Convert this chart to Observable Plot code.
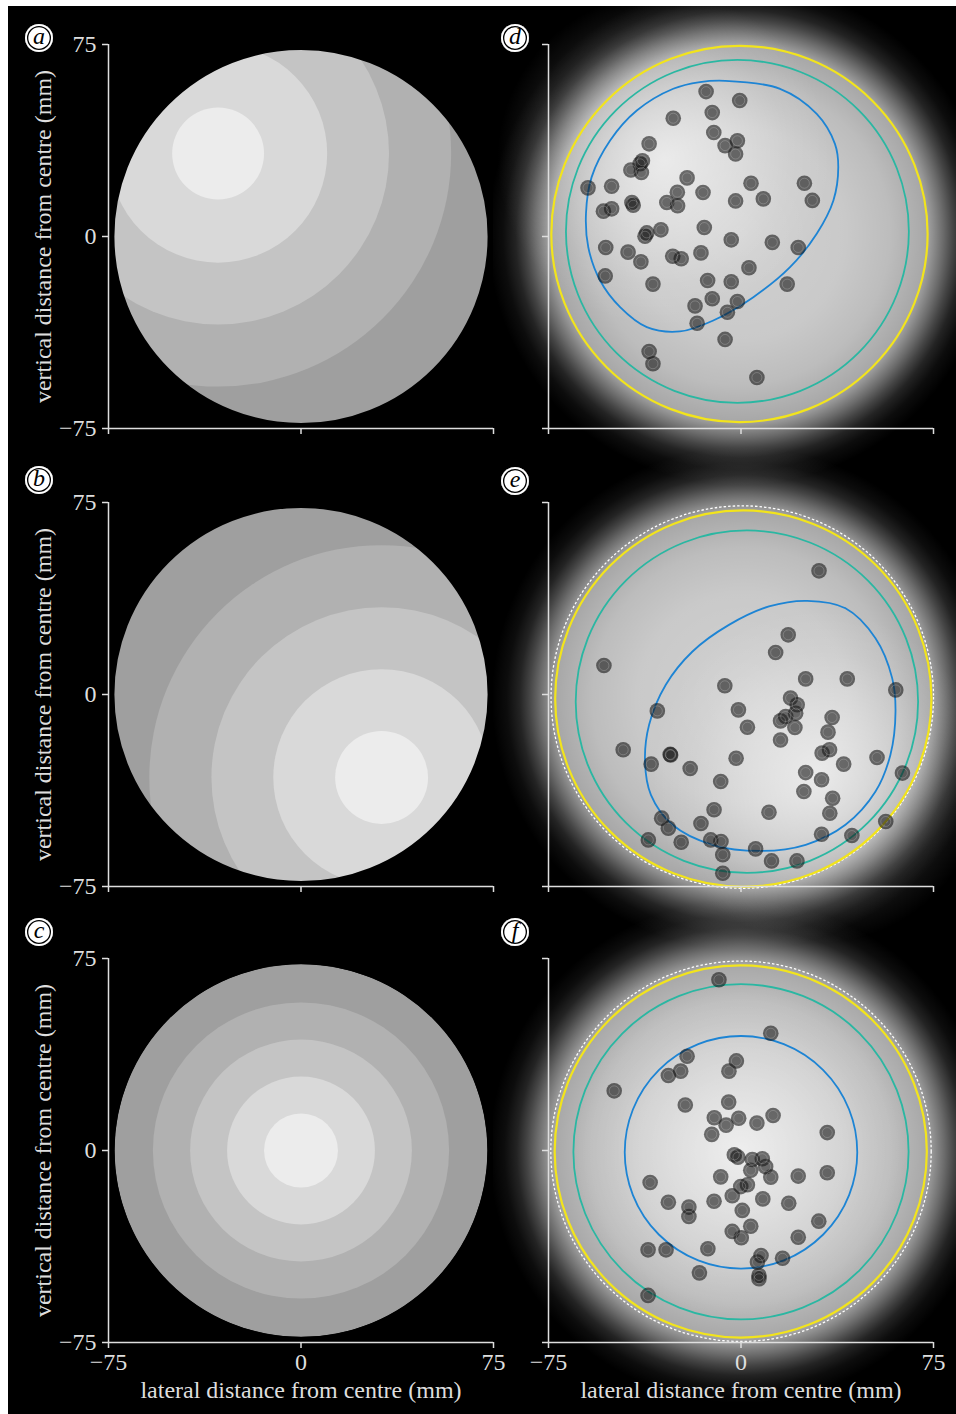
<!DOCTYPE html>
<html><head><meta charset="utf-8">
<script src="https://cdn.jsdelivr.net/npm/d3@7"></script>
<script src="https://cdn.jsdelivr.net/npm/@observablehq/plot@0.6"></script>
<style>
html,body{margin:0;padding:0;background:#fff;}
#page{position:relative;width:956px;height:1414px;background:#fff;overflow:hidden;}
#black{position:absolute;left:8px;top:6px;width:948px;height:1408px;background:#000;}
.strip{position:absolute;background:#fff;z-index:5;}
.panel{position:absolute;}
.tag{position:absolute;z-index:6;width:28px;height:28px;border-radius:50%;background:#fff;
 box-shadow: inset 0 0 0 2px #fff, inset 0 0 0 3.3px #000;
 font-family:"Liberation Serif",serif;font-style:italic;font-size:24px;line-height:25px;text-align:center;color:#000;}
</style></head>
<body>
<svg width="0" height="0" style="position:absolute"><defs>
<radialGradient id="glow" cx="50%" cy="50%" r="50%">
 <stop offset="0" stop-color="#fff" stop-opacity="0.82"/>
 <stop offset="0.42" stop-color="#fff" stop-opacity="0.79"/>
 <stop offset="0.6" stop-color="#fff" stop-opacity="0.74"/>
 <stop offset="0.74" stop-color="#fff" stop-opacity="0.66"/>
 <stop offset="0.77" stop-color="#fff" stop-opacity="0.56"/>
 <stop offset="0.81" stop-color="#fff" stop-opacity="0.42"/>
 <stop offset="0.85" stop-color="#fff" stop-opacity="0.27"/>
 <stop offset="0.89" stop-color="#fff" stop-opacity="0.14"/>
 <stop offset="0.94" stop-color="#fff" stop-opacity="0.05"/>
 <stop offset="1" stop-color="#fff" stop-opacity="0"/>
</radialGradient>
<radialGradient id="hl" cx="50%" cy="50%" r="50%">
 <stop offset="0" stop-color="#fff" stop-opacity="0.62"/>
 <stop offset="0.4" stop-color="#fff" stop-opacity="0.36"/>
 <stop offset="0.75" stop-color="#fff" stop-opacity="0.1"/>
 <stop offset="1" stop-color="#fff" stop-opacity="0"/>
</radialGradient>
</defs></svg>
<div id="page"><div id="black"></div>
<div class="strip" style="left:0;top:0;width:956px;height:6px"></div>
<div class="strip" style="left:0;top:0;width:8px;height:1414px"></div>
</div>
<script>
// ---------- data (mm) ----------
const axisTicks = [-75, 0, 75];
const tickLabels = ["\u221275", "0", "75"];
const yLabel = "vertical distance from centre (mm)";
const xLabel = "lateral distance from centre (mm)";
const panelLetters = ["a", "b", "c", "d", "e", "f"];

// left panels: banded light distribution
const ringShades = ["#9f9f9f", "#b1b1b1", "#c4c4c4", "#d9d9d9", "#ececec"];
const discRadius = 72.7;
const ringRadiiA = [130, 90.8, 66.6, 42.5, 17.9];
const ringCentreA = [-32.3, 32.4];
const ringRadiiB = [130, 90.5, 66.3, 42.2, 18.1];
const ringCentreB = [31.4, -32.4];
const ringRadiiC = [72.6, 57.7, 43.2, 28.8, 14.4];
const ringCentreC = [0, 0];

// right panels: circles [cx, cy, r]
const yellowD = [-0.6, 1.0, 73.3];
const tealD = [-1.4, 2.0, 66.8];
const yellowE = [0.9, -1.6, 73.3];
const tealE = [2.3, -2.8, 66.7];
const dottedE = [0.5, -1.0, 74.5];
const yellowF = [-0.1, -0.4, 72.5];
const tealF = [0, -0.5, 65.3];
const dottedF = [0, -0.3, 74.1];
const blueF = [0, -0.7, 45.3];
const highlightD = [-30, 30, 65];
const highlightE = [30, -32, 65];
const highlightF = [0, 0, 65];
const glowRadius = 98;

const contourD = [[-6.2,60.8],[15.2,57.7],[29.5,47.9],[36.6,36.2],[37.9,27.1],[36.0,14.1],[29.5,1.1],[19.1,-12.0],[4.8,-23.7],[-10.8,-32.8],[-23.8,-37.1],[-36.7,-35.4],[-47.1,-27.6],[-54.9,-17.2],[-59.5,-4.2],[-60.4,8.9],[-58.2,23.2],[-51.0,37.5],[-40.6,49.2],[-26.4,57.7],[-16.0,60.3]];
const contourE = [[25.8,36.6],[40.7,33.7],[52.4,22.0],[58.9,6.4],[60.2,-6.6],[58.2,-23.6],[52.4,-37.9],[40.7,-50.9],[25.2,-58.7],[8.3,-61.1],[-11.2,-58.7],[-26.7,-50.9],[-35.1,-39.2],[-37.4,-26.2],[-35.8,-11.8],[-29.3,3.8],[-18.9,16.8],[-4.7,27.2],[10.9,34.4]];

const dotsD = [[-13.6,56.6],[-0.5,53.1],[-11.2,48.4],[-26.4,46.2],[-10.6,40.6],[-6.2,35.5],[-1.4,37.4],[-2.1,32.2],[-35.8,36.2],[-38.4,29.6],[-39.3,28.4],[-42.9,26.0],[-38.8,25.0],[-21.0,22.9],[-59.6,19.0],[-50.4,19.6],[-24.8,17.3],[-14.8,17.2],[3.9,20.8],[24.7,20.8],[27.8,14.1],[8.7,14.7],[-2.1,13.9],[-28.9,13.3],[-24.7,12.0],[-42.5,13.3],[-42.0,12.2],[-50.4,10.8],[-53.6,9.9],[-14.3,3.5],[-31.2,2.6],[-36.7,1.4],[-37.4,0.1],[-52.7,-4.3],[-44.0,-6.1],[-39.0,-9.9],[-26.6,-7.7],[-23.3,-8.7],[-15.6,-6.4],[-3.8,-1.3],[12.2,-2.3],[22.3,-4.3],[3.1,-12.2],[-52.9,-15.4],[-34.3,-18.6],[-13.0,-17.2],[-3.8,-17.7],[18.0,-18.6],[-11.2,-24.3],[-1.4,-25.4],[-17.9,-27.1],[-5.3,-29.6],[-17.1,-33.9],[-6.2,-40.2],[-35.8,-44.9],[-34.3,-49.7],[6.2,-55.1]];
const dotsE = [[30.4,48.3],[18.4,23.3],[13.5,16.4],[-53.4,11.3],[-6.3,3.4],[25.2,6.1],[41.4,6.1],[60.3,1.8],[-32.6,-6.4],[-1.0,-6.0],[19.3,-1.4],[21.9,-4.0],[21.3,-7.3],[17.4,-8.6],[15.4,-10.3],[21.0,-12.9],[35.5,-9.0],[2.5,-12.8],[15.4,-17.8],[33.9,-14.7],[31.6,-22.9],[34.5,-21.6],[-45.9,-21.6],[-27.4,-23.6],[-27.6,-23.4],[-35.0,-27.2],[-19.8,-28.9],[-1.9,-24.9],[40.0,-27.2],[53.0,-24.6],[62.9,-30.7],[25.2,-30.5],[31.4,-33.3],[-7.9,-34.0],[24.5,-37.9],[35.7,-40.5],[34.6,-46.4],[10.9,-46.0],[-10.5,-45.0],[-30.9,-48.3],[-28.3,-52.2],[-15.6,-50.4],[-36.1,-56.8],[-23.3,-57.7],[-11.8,-56.8],[-7.8,-57.4],[-7.1,-62.6],[-7.1,-69.8],[5.7,-60.3],[11.9,-65.0],[21.8,-65.0],[31.4,-54.6],[43.2,-55.1],[56.4,-49.6]];
const dotsF = [[-8.6,66.7],[11.6,45.8],[-21.0,36.8],[-23.5,31.0],[-28.3,29.3],[-49.4,23.3],[-1.8,35.0],[-4.7,31.0],[-21.7,17.8],[-4.8,18.9],[-10.4,12.8],[-0.9,12.6],[-5.8,9.9],[-11.4,6.3],[6.2,10.7],[12.5,13.7],[33.6,7.0],[-2.6,-1.7],[-1.2,-2.6],[4.4,-3.5],[8.3,-3.2],[9.6,-6.3],[3.8,-7.7],[11.6,-10.4],[-7.9,-10.3],[22.3,-10.0],[33.6,-8.7],[-35.4,-12.5],[2.5,-13.4],[-0.1,-14.1],[-3.4,-17.7],[8.5,-18.9],[-10.5,-19.8],[-28.3,-20.2],[18.6,-20.6],[-20.3,-22.1],[-20.3,-25.8],[0.5,-23.4],[30.3,-27.6],[3.8,-29.6],[-3.4,-31.6],[0.1,-34.1],[22.3,-33.9],[-36.2,-38.8],[-29.2,-38.8],[-12.9,-38.4],[7.8,-41.0],[6.4,-43.6],[16.2,-42.1],[-16.2,-47.8],[7.0,-48.8],[7.0,-50.1],[-36.2,-56.6]];

// ---------- layout ----------
const PXMM = 385 / 150;
const rScale = {type: "linear", domain: [0, 75], range: [0, 75 * PXMM]};
const axisColor = "#dedede";
const fontStyle = {background: "transparent", color: axisColor, fontFamily: "'Liberation Serif', 'Times New Roman', serif", fontSize: "24px", overflow: "visible"};
const cx = d => d[0], cy = d => d[1];
const fmt = d => tickLabels[axisTicks.indexOf(d)];
const blank = () => "";

function axesMarks(showY, showX) {
  const m = [
    Plot.ruleX([-75], {y1: -75, y2: 75, stroke: axisColor, strokeWidth: 1.5}),
    Plot.ruleY([-75], {x1: -75, x2: 75, stroke: axisColor, strokeWidth: 1.5}),
    Plot.axisY(axisTicks, {tickSize: 6, tickPadding: 6, strokeWidth: 1.5, tickFormat: showY ? fmt : blank, label: null}),
    Plot.axisX(axisTicks, {tickSize: 6, tickPadding: 4, strokeWidth: 1.5, tickFormat: showX ? fmt : blank, label: null})
  ];
  if (showY) m.push(Plot.text([yLabel], {frameAnchor: "left", dx: -65, rotate: -90, textAnchor: "middle", text: d => d, fill: axisColor}));
  if (showX) m.push(Plot.text([xLabel], {frameAnchor: "bottom", dy: 55, textAnchor: "middle", text: d => d, fill: axisColor}));
  return m;
}

function leftPanel(radii, centre, bottom) {
  const rings = radii.map((r, i) => ({x: centre[0], y: centre[1], r, fill: ringShades[i]}));
  return Plot.plot({
    width: 497, height: bottom ? 494 : 446,
    marginLeft: 100, marginRight: 12, marginTop: 38, marginBottom: bottom ? 72 : 24,
    x: {domain: [-75, 75], axis: null}, y: {domain: [-75, 75], axis: null},
    r: rScale, color: {type: "identity"},
    style: fontStyle,
    marks: [
      Plot.dot(rings, {x: "x", y: "y", r: "r", fill: "fill", clip: true, sort: null}),
      Plot.dot([[0, 0, discRadius + 60]], {x: cx, y: cy, r: d => d[2], fill: "none", stroke: "#000", strokeWidth: 120 * PXMM, clip: true}),
      ...axesMarks(true, bottom)
    ]
  });
}

function rightPanel(o, bottom) {
  const circ = (c, opts) => Plot.dot([c], {x: cx, y: cy, r: d => d[2], fill: "none", ...opts});
  return Plot.plot({
    width: 450, height: bottom ? 494 : 446,
    marginLeft: 43, marginRight: 22, marginTop: 38, marginBottom: bottom ? 72 : 24,
    x: {domain: [-75, 75], axis: null}, y: {domain: [-75, 75], axis: null},
    r: rScale,
    style: fontStyle,
    marks: [
      Plot.dot([[o.yellow[0], o.yellow[1], glowRadius]], {x: cx, y: cy, r: d => d[2], fill: "url(#glow)"}),
      Plot.dot([o.hl], {x: cx, y: cy, r: d => d[2], fill: "url(#hl)"}),
      ...(o.dotted ? [circ(o.dotted, {stroke: "#fff", strokeWidth: 1.3, strokeDasharray: "2.5,2"})] : []),
      circ(o.yellow, {stroke: "#f2e41c", strokeWidth: 2.2}),
      circ(o.teal, {stroke: "#2ab7a2", strokeWidth: 1.8}),
      o.contour
        ? Plot.line(o.contour, {x: cx, y: cy, curve: "catmull-rom-closed", stroke: "#1d84d4", strokeWidth: 1.8})
        : circ(o.blue, {stroke: "#1d84d4", strokeWidth: 1.8}),
      Plot.dot(o.dots, {x: cx, y: cy, r: 7.8, fill: "#161616", fillOpacity: 0.6, stroke: null}),
      Plot.dot(o.dots, {x: cx, y: cy, r: 5, fill: "none", stroke: "#d0d0d0", strokeOpacity: 0.35, strokeWidth: 0.8}),
      ...axesMarks(false, bottom)
    ]
  });
}

const page = document.getElementById("page");
const firstStrip = page.querySelector(".strip");
function place(el, left, top) {
  el.classList.add("panel");
  el.style.left = left + "px";
  el.style.top = top + "px";
  page.insertBefore(el, firstStrip);
}
const rowTops = [6, 464, 920];
place(rightPanel({yellow: yellowD, teal: tealD, contour: contourD, hl: highlightD, dots: dotsD}, false), 505, rowTops[0]);
place(rightPanel({yellow: yellowE, teal: tealE, dotted: dottedE, contour: contourE, hl: highlightE, dots: dotsE}, false), 505, rowTops[1]);
place(rightPanel({yellow: yellowF, teal: tealF, dotted: dottedF, blue: blueF, hl: highlightF, dots: dotsF}, true), 505, rowTops[2]);
place(leftPanel(ringRadiiA, ringCentreA, false), 8, rowTops[0]);
place(leftPanel(ringRadiiB, ringCentreB, false), 8, rowTops[1]);
place(leftPanel(ringRadiiC, ringCentreC, true), 8, rowTops[2]);

// circled panel letters
const tagPos = [[25, 24], [25, 466], [25, 918], [501, 24], [501, 467], [501, 918]];
panelLetters.forEach((l, i) => {
  const t = document.createElement("div");
  t.className = "tag";
  t.textContent = l;
  t.style.left = tagPos[i][0] + "px";
  t.style.top = tagPos[i][1] + "px";
  page.appendChild(t);
});
</script>
</body></html>
